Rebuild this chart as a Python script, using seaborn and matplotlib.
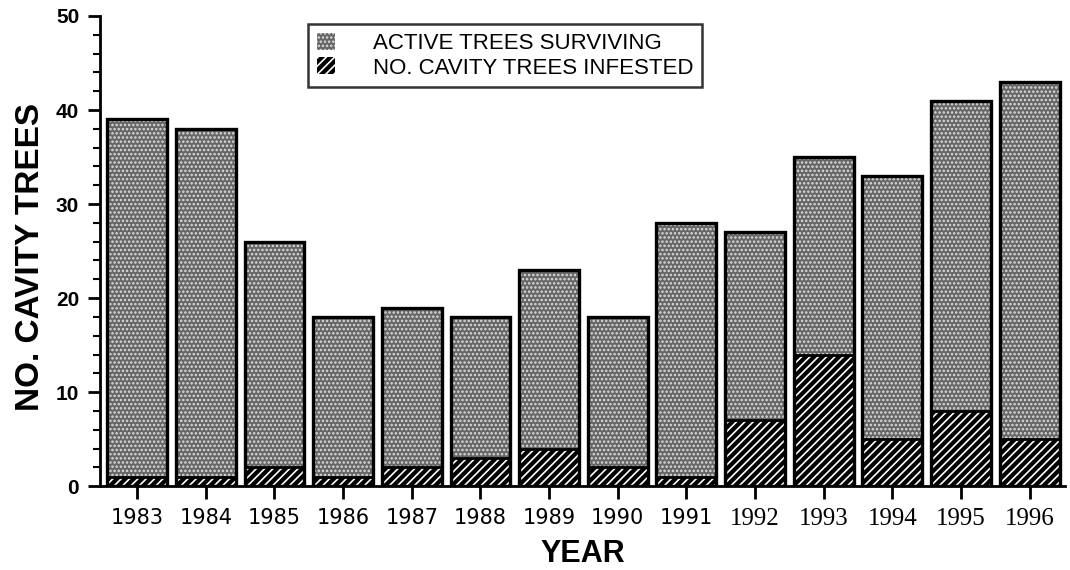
import numpy as np
import pandas as pd
import matplotlib
matplotlib.use("Agg")
import matplotlib.pyplot as plt
import seaborn as sns
from matplotlib.patches import Patch
from matplotlib.ticker import MultipleLocator

years = ["1983", "1984", "1985", "1986", "1987", "1988", "1989",
         "1990", "1991", "1992", "1993", "1994", "1995", "1996"]
total_trees = [39, 38, 26, 18, 19, 18, 23, 18, 28, 27, 35, 33, 41, 43]
infested = [1, 1, 2, 1, 2, 3, 4, 2, 1, 7, 14, 5, 8, 5]
serif_years = ["1992", "1993", "1994", "1995", "1996"]

df = pd.DataFrame({"year": years, "total": total_trees, "infested": infested})

sns.set_style("ticks")
plt.rcParams["font.family"] = ["Liberation Sans", "DejaVu Sans"]
plt.rcParams["text.color"] = "black"
plt.rcParams["axes.labelcolor"] = "black"
plt.rcParams["xtick.color"] = "black"
plt.rcParams["ytick.color"] = "black"
plt.rcParams["hatch.linewidth"] = 1.2

fig = plt.figure(figsize=(10.7, 5.7), dpi=100)
ax = fig.add_axes([0.0935, 0.147, 0.9015, 0.825])

GRAY = "#666666"
DOTS = "#dddddd"

# surviving (full bar height), dithered gray
sns.barplot(data=df, x="year", y="total", ax=ax, color=GRAY, width=0.87,
            saturation=1, edgecolor=DOTS, hatch="....", linewidth=0)
n_tot = len(ax.patches)
# infested, black with white diagonal lines
sns.barplot(data=df, x="year", y="infested", ax=ax, color="black", width=0.87,
            saturation=1, edgecolor="white", hatch="////", linewidth=0)

# black outlines on top
for p in ax.patches[:n_tot]:
    ax.add_patch(plt.Rectangle(p.get_xy(), p.get_width(), p.get_height(),
                               fill=False, edgecolor="black", linewidth=2.4, zorder=3))
for p in ax.patches[n_tot:2 * n_tot]:
    ax.add_patch(plt.Rectangle(p.get_xy(), p.get_width(), p.get_height(),
                               fill=False, edgecolor="black", linewidth=2.0, zorder=3))

ax.set_ylim(0, 50)
ax.set_xlim(-0.54, 13.51)
ax.yaxis.set_major_locator(MultipleLocator(10))
ax.yaxis.set_minor_locator(MultipleLocator(2))

for side in ["top", "right"]:
    ax.spines[side].set_visible(False)
for side in ["left", "bottom"]:
    ax.spines[side].set_linewidth(2)
    ax.spines[side].set_color("black")

ax.tick_params(axis="y", which="major", length=9, width=2, labelsize=15, pad=6)
ax.tick_params(axis="y", which="minor", length=5, width=1.5)
ax.tick_params(axis="x", which="major", length=9, width=2, labelsize=15, pad=7)
for lab in ax.get_yticklabels():
    lab.set_fontweight("bold")
for lab in ax.get_xticklabels():
    if lab.get_text() in serif_years:
        lab.set_family(["Liberation Serif", "DejaVu Serif"])
        lab.set_fontsize(18)
    else:
        lab.set_family(["DejaVu Sans"])

ax.set_xlabel("YEAR", fontsize=22, fontweight="bold", labelpad=6)
ax.set_ylabel("NO. CAVITY TREES", fontsize=24, fontweight="bold")
ax.yaxis.set_label_coords(-0.056, 0.487)

handles = [Patch(facecolor=GRAY, edgecolor=DOTS, hatch="....", linewidth=0),
           Patch(facecolor="black", edgecolor="white", hatch="////", linewidth=0)]
leg = ax.legend(handles, ["ACTIVE TREES SURVIVING", "NO. CAVITY TREES INFESTED"],
                loc="upper left", bbox_to_anchor=(0.288, 0.958),
                bbox_transform=fig.transFigure, fontsize=16,
                frameon=True, fancybox=False, edgecolor="black",
                handlelength=0.8, handleheight=0.8, handletextpad=1.7,
                borderpad=0.4, labelspacing=0.15, borderaxespad=0)
leg.get_frame().set_linewidth(1.8)

fig.savefig("out.png", dpi=100)
